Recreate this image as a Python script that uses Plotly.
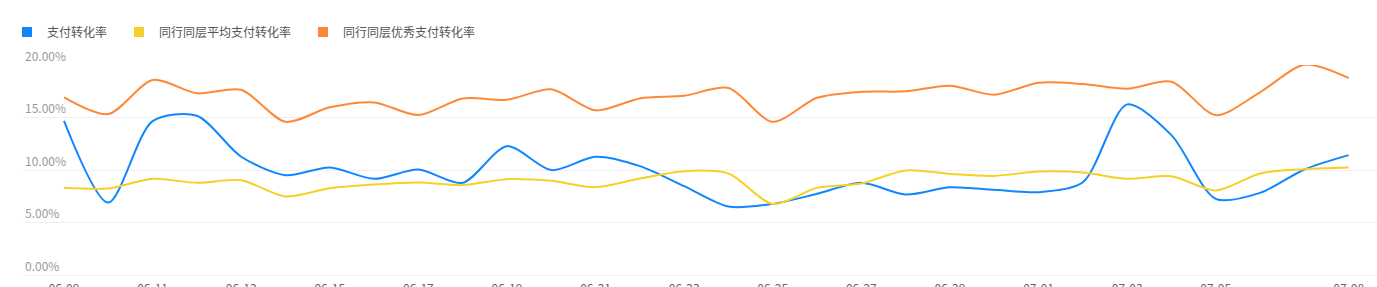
import plotly.graph_objects as go

dates = ["06-09","06-10","06-11","06-12","06-13","06-14","06-15","06-16","06-17","06-18",
         "06-19","06-20","06-21","06-22","06-23","06-24","06-25","06-26","06-27","06-28",
         "06-29","06-30","07-01","07-02","07-03","07-04","07-05","07-06","07-07","07-08"]

pay_rate = [14.69, 6.90, 14.66, 15.17, 11.26, 9.51, 10.24, 9.16, 10.05, 8.78,
            12.27, 9.99, 11.26, 10.37, 8.46, 6.52, 6.77, 7.73, 8.78, 7.67,
            8.36, 8.11, 7.89, 8.84, 16.25, 13.32, 7.25, 7.82, 10.05, 11.42]

peer_avg = [8.30, 8.24, 9.16, 8.78, 9.03, 7.48, 8.27, 8.62, 8.81, 8.56,
            9.13, 8.97, 8.36, 9.19, 9.89, 9.67, 6.77, 8.30, 8.72, 9.96,
            9.63, 9.44, 9.86, 9.77, 9.16, 9.41, 8.05, 9.67, 10.08, 10.24]

peer_top = [16.92, 15.33, 18.57, 17.30, 17.64, 14.59, 15.97, 16.44, 15.23, 16.82,
            16.69, 17.68, 15.68, 16.82, 17.07, 17.81, 14.59, 16.88, 17.45, 17.49,
            18.03, 17.17, 18.31, 18.19, 17.74, 18.41, 15.23, 17.40, 20.03, 18.76]

series_names = ["支付转化率", "同行同层平均支付转化率", "同行同层优秀支付转化率"]
series_values = [pay_rate, peer_avg, peer_top]
colors = ["#1086FF", "#F6D026", "#FF8838"]

tick_vals = ["06-09","06-11","06-13","06-15","06-17","06-19","06-21","06-23",
             "06-25","06-27","06-29","07-01","07-03","07-05","07-08"]
y_ticks = [0, 5, 10, 15, 20]
y_tick_text = ["0.00%", "5.00%", "10.00%", "15.00%", "20.00%"]

W, H = 1377, 287
fig = go.Figure()

for name, vals, col in zip(series_names, series_values, colors):
    fig.add_trace(go.Scatter(
        x=dates, y=vals, mode="lines", name=name, showlegend=False,
        line=dict(color=col, width=2, shape="spline", smoothing=0.8),
        hovertemplate="%{x}: %{y:.2f}%<extra>" + name + "</extra>",
    ))

legend_px = [25, 137, 321]
legend_keys = ["legend", "legend2", "legend3"]
for name, col, key in zip(series_names, colors, legend_keys):
    fig.add_trace(go.Scatter(
        x=[None], y=[None], mode="markers", name=name, legend=key,
        marker=dict(symbol="square", size=10, color=col),
    ))

font_family = "Noto Sans CJK SC, Noto Sans, sans-serif"
layout_legends = {}
for px, key in zip(legend_px, legend_keys):
    layout_legends[key] = dict(
        xref="container", yref="container",
        x=(px - 18) / W, y=1 - 32 / H, xanchor="left", yanchor="middle",
        orientation="h", itemwidth=30, bgcolor="rgba(0,0,0,0)",
        font=dict(size=12, color="#555555", family=font_family),
    )

fig.update_layout(
    width=W, height=H,
    margin=dict(l=22, r=0, t=65, b=12, autoexpand=False),
    paper_bgcolor="white", plot_bgcolor="white",
    font=dict(family=font_family),
    **layout_legends,
)

fig.update_xaxes(
    type="category", range=[-0.948, 29.64],
    tickmode="array", tickvals=tick_vals, ticktext=tick_vals,
    showgrid=False, zeroline=False, showline=False, ticks="",
    ticklabelstandoff=5,
    tickfont=dict(size=12, color="#666666"), automargin=False,
)
fig.update_yaxes(
    range=[0, 20], tickmode="array", tickvals=y_ticks, ticktext=y_tick_text,
    showgrid=True, gridcolor="#EEF0F6", gridwidth=1,
    zeroline=True, zerolinecolor="#EEF0F6", zerolinewidth=1,
    showline=False, ticks="", ticklabelposition="inside top",
    ticklabeloverflow="allow",
    tickfont=dict(size=12, color="#999999"), automargin=False,
)

fig.write_html("out.html")
